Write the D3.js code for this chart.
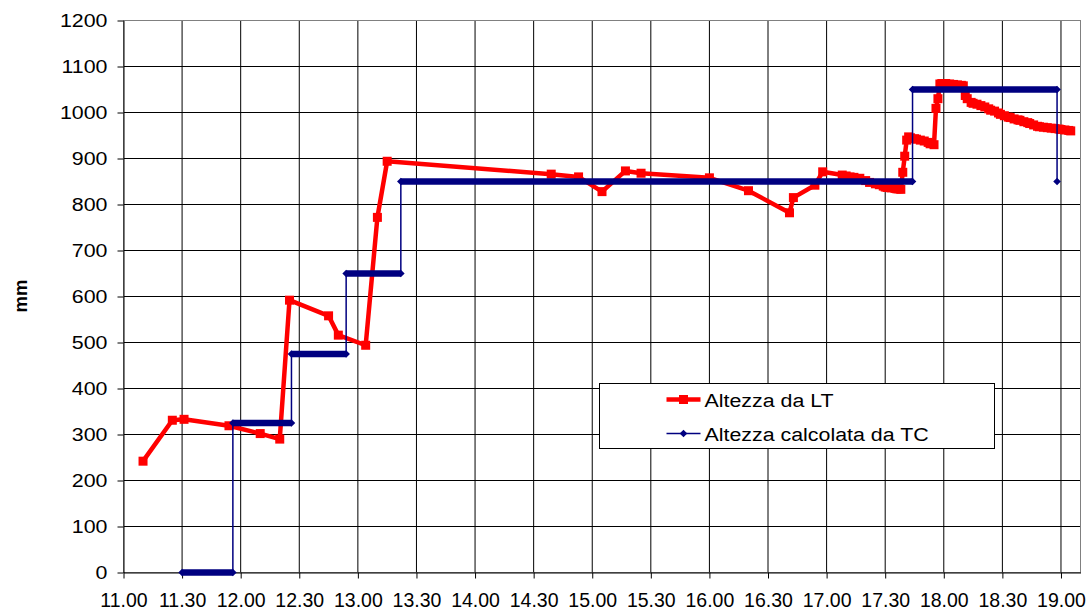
<!DOCTYPE html>
<html>
<head>
<meta charset="utf-8">
<script src="https://cdn.jsdelivr.net/npm/d3@7"></script>
<style>
  body { margin: 0; background: #fff; }
  svg { display: block; }
  text { font-family: 'Liberation Sans', Arial, sans-serif; fill: #000; }
</style>
</head>
<body>
<svg id="chart" width="1086" height="610"></svg>
<script>
// Altezza da LT (mm) : time of reading / value
const lt_times = ['11:10', '11:25', '11:31', '11:54', '12:10', '12:20', '12:25', '12:45', '12:50', '13:04',
  '13:10', '13:15', '14:39', '14:53', '15:05', '15:17', '15:25', '16:00', '16:20', '16:41',
  '16:43', '16:54', '16:58', '17:08', '17:10', '17:12', '17:14', '17:17', '17:20', '17:22',
  '17:25', '17:27', '17:29', '17:30', '17:31', '17:33', '17:35', '17:36', '17:37', '17:38',
  '17:39', '17:40', '17:41', '17:42', '17:43', '17:45', '17:46', '17:48', '17:50', '17:52',
  '17:53', '17:55', '17:56', '17:57', '17:58', '17:59', '18:01', '18:03', '18:05', '18:07',
  '18:09', '18:10', '18:11', '18:12', '18:14', '18:15', '18:17', '18:19', '18:21', '18:23',
  '18:24', '18:26', '18:28', '18:29', '18:31', '18:33', '18:34', '18:36', '18:38', '18:39',
  '18:41', '18:43', '18:44', '18:46', '18:48', '18:49', '18:51', '18:53', '18:55', '18:57',
  '18:59', '19:00', '19:02', '19:04', '19:05'];
const lt_values = [242, 331, 333, 319, 302, 290, 592, 558, 516, 494,
  772, 894, 866, 860, 828, 873, 868, 858, 830, 782,
  815, 842, 871, 864, 862, 860, 859, 857, 852, 848,
  845, 843, 840, 838, 837, 836, 835, 834, 834, 833,
  870, 905, 940, 947, 945, 943, 942, 940, 938, 935,
  932, 930, 1009, 1030, 1062, 1063, 1063, 1062, 1061, 1060,
  1059, 1058, 1037, 1030, 1022, 1020, 1018, 1015, 1012, 1008,
  1005, 1003, 999, 996, 993, 990, 989, 986, 984, 983,
  980, 978, 976, 973, 970, 969, 968, 967, 966, 965,
  964, 963, 962, 961, 960];

// Altezza calcolata da TC : constant levels (start, end, value) + last reading
const tc_starts = ['11:30', '11:56', '12:26', '12:54', '13:22', '17:44'];
const tc_ends = ['11:56', '12:26', '12:54', '13:22', '17:44', '18:58'];
const tc_values = [0, 325, 475, 650, 850, 1050];
const tc_last = { time: '18:58', value: 850 };

const x_labels = ['11.00', '11.30', '12.00', '12.30', '13.00', '13.30', '14.00', '14.30', '15.00',
  '15.30', '16.00', '16.30', '17.00', '17.30', '18.00', '18.30', '19.00'];
const y_ticks = [0, 100, 200, 300, 400, 500, 600, 700, 800, 900, 1000, 1100, 1200];
const series_names = ['Altezza da LT', 'Altezza calcolata da TC'];

const color_lt = '#ff0000';
const color_tc = '#000080';
const stretch = 1.15;

const to_min = s => {
  const [h, m] = s.split(/[:.]/).map(Number);
  return h * 60 + m;
};

const svg = d3.select('svg#chart');
const plot = { left: 123.5, right: 1080.5, top: 20.5, bottom: 572.5 };

const x = d3.scaleLinear()
  .domain([to_min('11:00'), to_min('19:10')])
  .range([plot.left, plot.right]);
const y = d3.scaleLinear()
  .domain([0, 1200])
  .range([plot.bottom, plot.top]);

// grid
const grid = svg.append('g').attr('class', 'grid')
  .attr('stroke', '#000').attr('stroke-width', 1);
grid.selectAll('line.h')
  .data(y_ticks.filter(v => v > 0 && v < 1200))
  .enter()
  .append('line')
  .attr('x1', plot.left).attr('x2', plot.right)
  .attr('y1', d => y(d)).attr('y2', d => y(d));
grid.selectAll('line.v')
  .data(x_labels.slice(1))
  .enter()
  .append('line')
  .attr('x1', d => x(to_min(d))).attr('x2', d => x(to_min(d)))
  .attr('y1', plot.top).attr('y2', plot.bottom);

svg.append('rect')
  .attr('x', plot.left).attr('y', plot.top)
  .attr('width', plot.right - plot.left).attr('height', plot.bottom - plot.top)
  .attr('fill', 'none').attr('stroke', '#808080');

// axes
const axis_y = svg.append('g')
  .attr('transform', `translate(${plot.left},0)`)
  .call(d3.axisLeft(y).tickValues(y_ticks).tickFormat(d3.format('d')).tickSize(6).tickSizeOuter(0));
axis_y.select('.domain').attr('stroke', '#000');
axis_y.selectAll('.tick line').attr('stroke', '#000');
axis_y.selectAll('.tick text')
  .attr('x', null).attr('dy', null)
  .attr('transform', `translate(-16,0) scale(${stretch},1)`)
  .attr('dominant-baseline', 'central')
  .style('font-size', '18.6px');

const axis_x = svg.append('g')
  .attr('transform', `translate(0,${plot.bottom})`)
  .call(d3.axisBottom(x)
    .tickValues(x_labels.map(to_min))
    .tickFormat((d, i) => x_labels[i])
    .tickSize(6)
    .tickSizeOuter(0));
axis_x.select('.domain').attr('stroke', '#000');
axis_x.selectAll('.tick line').attr('stroke', '#000');
axis_x.selectAll('.tick text')
  .attr('y', 34).attr('dy', null)
  .style('font-size', '19.5px');

svg.append('text')
  .attr('transform', 'translate(27,296) rotate(-90)')
  .attr('text-anchor', 'middle')
  .style('font-size', '18.5px')
  .style('font-weight', 'bold')
  .text('mm');

// Altezza da LT
const lt_data = lt_times.map((t, i) => ({ t: to_min(t), v: lt_values[i] }));
const line = d3.line().x(d => x(d.t)).y(d => y(d.v));
const g_lt = svg.append('g');
g_lt.append('path')
  .datum(lt_data)
  .attr('d', line)
  .attr('fill', 'none')
  .attr('stroke', color_lt)
  .attr('stroke-width', 4.5)
  .attr('stroke-linejoin', 'round');
g_lt.selectAll('rect')
  .data(lt_data)
  .enter()
  .append('rect')
  .attr('x', d => x(d.t) - 4.5).attr('y', d => y(d.v) - 4.5)
  .attr('width', 9).attr('height', 9)
  .attr('fill', color_lt);

// Altezza calcolata da TC
const tc_runs = tc_values.map((v, i) => ({ t0: to_min(tc_starts[i]), t1: to_min(tc_ends[i]), v }));
const tc_points = [];
tc_runs.forEach(r => {
  tc_points.push({ t: r.t0, v: r.v }, { t: r.t1, v: r.v });
});
tc_points.push({ t: to_min(tc_last.time), v: tc_last.value });

const diamond = r => `M0,${-r}L${r},0L0,${r}L${-r},0Z`;
const g_tc = svg.append('g');
g_tc.append('path')
  .datum(tc_points)
  .attr('d', line)
  .attr('fill', 'none')
  .attr('stroke', color_tc)
  .attr('stroke-width', 1.5);
// dense readings at each level form a thick band
g_tc.selectAll('line.band')
  .data(tc_runs)
  .enter()
  .append('line')
  .attr('x1', d => x(d.t0)).attr('x2', d => x(d.t1))
  .attr('y1', d => y(d.v)).attr('y2', d => y(d.v))
  .attr('stroke', color_tc)
  .attr('stroke-width', 6.5);
g_tc.selectAll('path.mark')
  .data(tc_points)
  .enter()
  .append('path')
  .attr('class', 'mark')
  .attr('transform', d => `translate(${x(d.t)},${y(d.v)})`)
  .attr('d', diamond(3.8))
  .attr('fill', color_tc);

// legend
const lgd = svg.append('g').attr('transform', 'translate(599.5,383.5)');
lgd.append('rect')
  .attr('width', 395).attr('height', 65)
  .attr('fill', '#fff').attr('stroke', '#000');
const items = lgd.selectAll('g.item')
  .data(series_names)
  .enter()
  .append('g')
  .attr('class', 'item')
  .attr('transform', (d, i) => `translate(0,${16 + i * 34})`);
items.append('line')
  .attr('x1', 67).attr('x2', 101)
  .attr('stroke', (d, i) => (i === 0 ? color_lt : color_tc))
  .attr('stroke-width', (d, i) => (i === 0 ? 4.5 : 1.5));
items.filter((d, i) => i === 0).append('rect')
  .attr('x', 79.5).attr('y', -4.5).attr('width', 9).attr('height', 9)
  .attr('fill', color_lt);
items.filter((d, i) => i === 1).append('path')
  .attr('transform', 'translate(84,0)')
  .attr('d', diamond(3.8))
  .attr('fill', color_tc);
items.append('text')
  .attr('transform', `translate(105,7.5) scale(${stretch},1)`)
  .style('font-size', '18.6px')
  .text(d => d);
</script>
</body>
</html>
